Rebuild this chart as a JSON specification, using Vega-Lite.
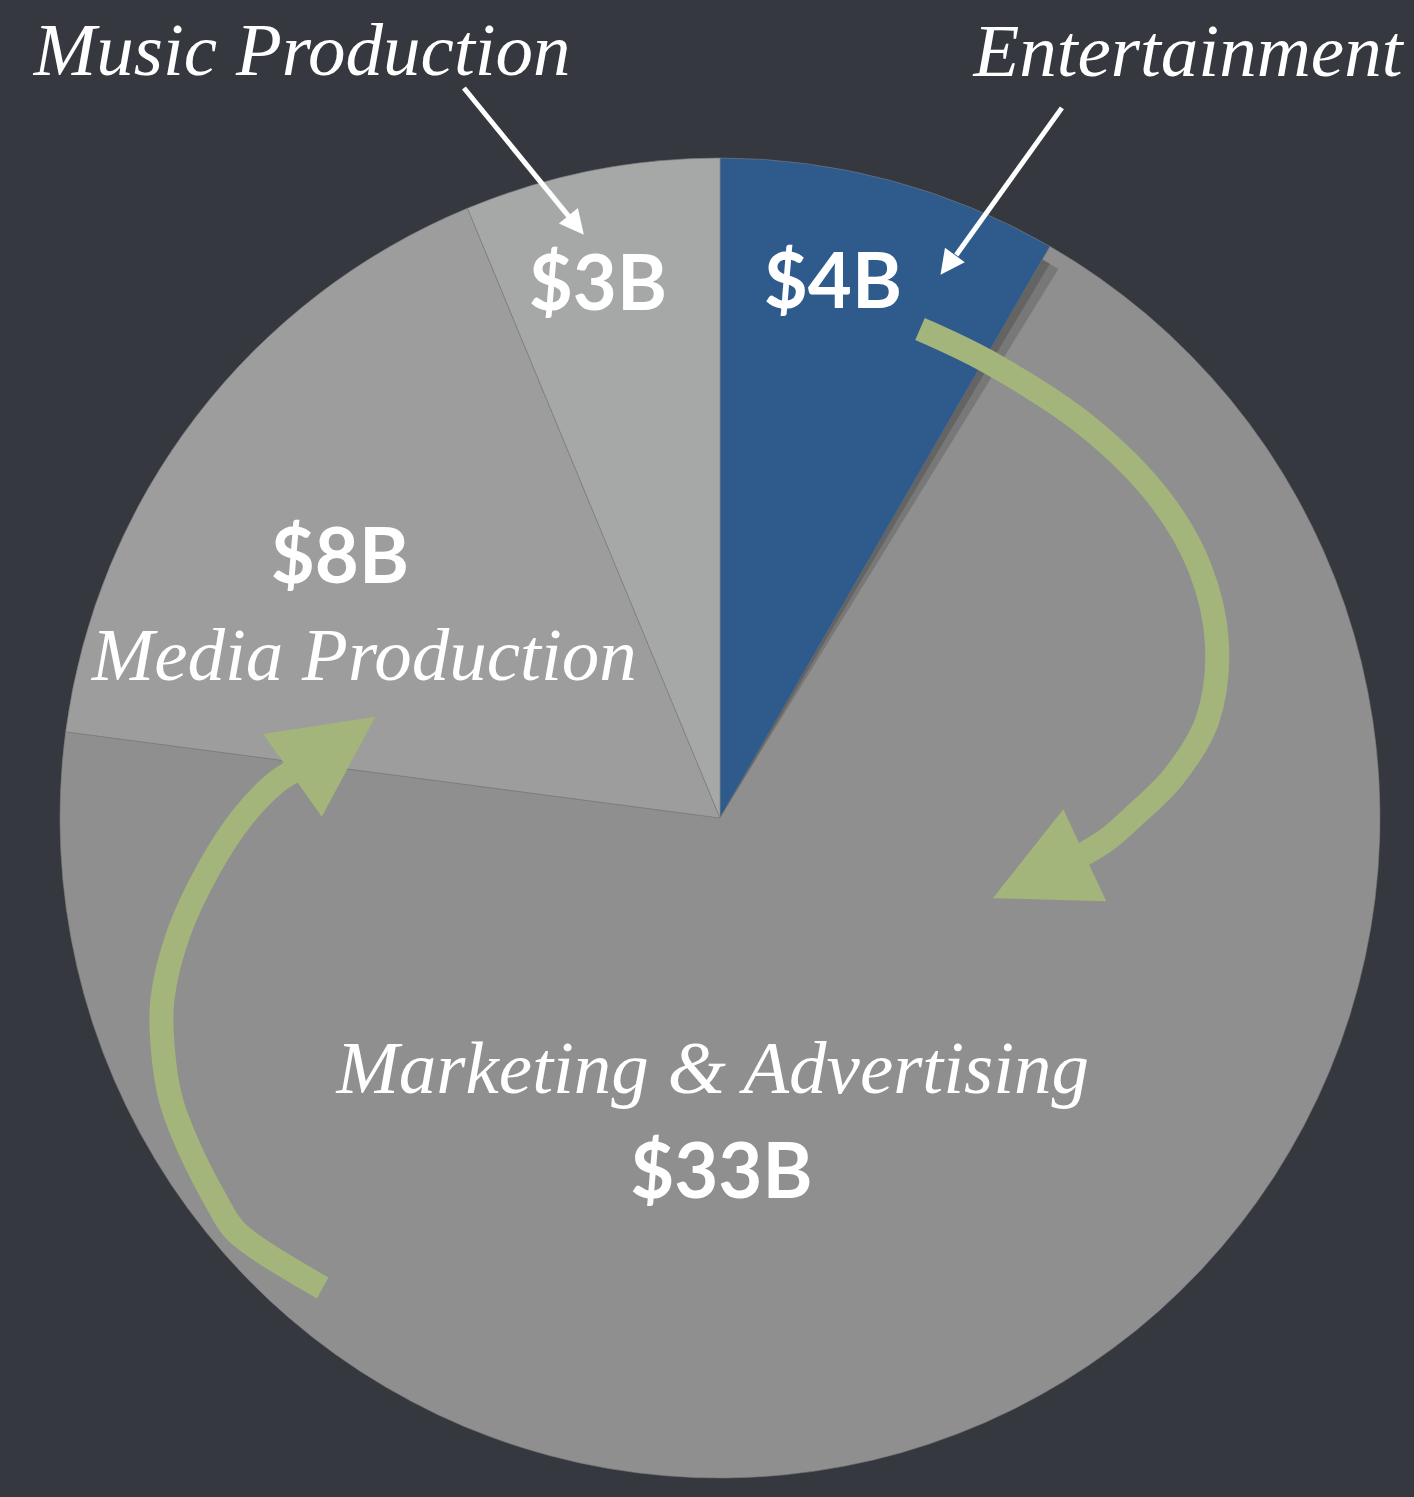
{
  "$schema": "https://vega.github.io/schema/vega-lite/v6.json",
  "width": 1320,
  "height": 1320,
  "autosize": "none",
  "padding": {"left": 60, "top": 158, "right": 34, "bottom": 19},
  "background": "#35383e",
  "config": {"view": {"stroke": null}},
  "datasets": {
    "slices": [
      {"category": "Entertainment", "value": 4, "rank": 1, "amount": "$4B", "ax": 0.171, "ay": 0.773, "nx": 0.709, "ny": 1.124},
      {"category": "Marketing & Advertising", "value": 33, "rank": 2, "amount": "$33B", "ax": 0.002, "ay": -0.576, "nx": -0.011, "ny": -0.417},
      {"category": "Media Production", "value": 8, "rank": 3, "amount": "$8B", "ax": -0.576, "ay": 0.356, "nx": -0.539, "ny": 0.209},
      {"category": "Music Production", "value": 3, "rank": 4, "amount": "$3B", "ax": -0.185, "ay": 0.770, "nx": -0.633, "ny": 1.126}
    ],
    "shadow": [
      {"s": 4, "e": 4.1},
      {"s": 4, "e": 4.22}
    ],
    "arrows": [
      {"arrow": "right", "seq": 1, "x": 0.303, "y": 0.741},
      {"arrow": "right", "seq": 2, "x": 0.405, "y": 0.692},
      {"arrow": "right", "seq": 3, "x": 0.556, "y": 0.594},
      {"arrow": "right", "seq": 4, "x": 0.667, "y": 0.483},
      {"arrow": "right", "seq": 5, "x": 0.727, "y": 0.379},
      {"arrow": "right", "seq": 6, "x": 0.753, "y": 0.264},
      {"arrow": "right", "seq": 7, "x": 0.738, "y": 0.147},
      {"arrow": "right", "seq": 8, "x": 0.686, "y": 0.061},
      {"arrow": "right", "seq": 9, "x": 0.626, "y": 0.002},
      {"arrow": "right", "seq": 10, "x": 0.586, "y": -0.033},
      {"arrow": "right", "seq": 11, "x": 0.545, "y": -0.058},
      {"arrow": "left", "seq": 1, "x": -0.602, "y": -0.712},
      {"arrow": "left", "seq": 2, "x": -0.733, "y": -0.627},
      {"arrow": "left", "seq": 3, "x": -0.764, "y": -0.579},
      {"arrow": "left", "seq": 4, "x": -0.803, "y": -0.503},
      {"arrow": "left", "seq": 5, "x": -0.832, "y": -0.427},
      {"arrow": "left", "seq": 6, "x": -0.844, "y": -0.352},
      {"arrow": "left", "seq": 7, "x": -0.845, "y": -0.276},
      {"arrow": "left", "seq": 8, "x": -0.820, "y": -0.174},
      {"arrow": "left", "seq": 9, "x": -0.773, "y": -0.074},
      {"arrow": "left", "seq": 10, "x": -0.723, "y": 0.002},
      {"arrow": "left", "seq": 11, "x": -0.674, "y": 0.053},
      {"arrow": "left", "seq": 12, "x": -0.648, "y": 0.070},
      {"arrow": "music", "seq": 1, "x": -0.388, "y": 1.106},
      {"arrow": "music", "seq": 2, "x": -0.227, "y": 0.909},
      {"arrow": "ent", "seq": 1, "x": 0.518, "y": 1.076},
      {"arrow": "ent", "seq": 2, "x": 0.358, "y": 0.853}
    ],
    "heads": [
      {"arrow": "right", "x": 0.483, "y": -0.089},
      {"arrow": "left", "x": -0.585, "y": 0.109},
      {"arrow": "music", "x": -0.218, "y": 0.898},
      {"arrow": "ent", "x": 0.345, "y": 0.838}
    ]
  },
  "layer": [
    {
      "data": {"name": "slices"},
      "mark": {"type": "arc", "stroke": "#7c7c7c", "strokeWidth": 0.6},
      "encoding": {
        "theta": {"field": "value", "type": "quantitative", "stack": true},
        "order": {"field": "rank", "type": "quantitative"},
        "color": {
          "field": "category",
          "type": "nominal",
          "scale": {
            "domain": ["Entertainment", "Marketing & Advertising", "Media Production", "Music Production"],
            "range": ["#2e5a8c", "#8f8f8f", "#9d9d9d", "#a5a8a7"]
          },
          "legend": null
        }
      }
    },
    {
      "data": {"name": "shadow"},
      "mark": {"type": "arc", "color": "#000000", "opacity": 0.16, "outerRadius": 645},
      "encoding": {
        "theta": {"field": "s", "type": "quantitative", "stack": null},
        "theta2": {"field": "e"}
      }
    },
    {
      "data": {"name": "arrows"},
      "transform": [{"filter": "datum.arrow === 'right' || datum.arrow === 'left'"}],
      "mark": {"type": "line", "color": "#a3b57a", "strokeWidth": 24, "strokeCap": "butt", "strokeJoin": "round", "interpolate": "catmull-rom"},
      "encoding": {
        "x": {"field": "x", "type": "quantitative", "scale": {"domain": [-1, 1], "nice": false, "zero": false}, "axis": null},
        "y": {"field": "y", "type": "quantitative", "scale": {"domain": [-1, 1], "nice": false, "zero": false}, "axis": null},
        "detail": {"field": "arrow"},
        "order": {"field": "seq", "type": "quantitative"}
      }
    },
    {
      "data": {"name": "arrows"},
      "transform": [{"filter": "datum.arrow === 'music' || datum.arrow === 'ent'"}],
      "mark": {"type": "line", "color": "#ffffff", "strokeWidth": 5, "strokeCap": "butt"},
      "encoding": {
        "x": {"field": "x", "type": "quantitative", "scale": {"domain": [-1, 1], "nice": false, "zero": false}, "axis": null},
        "y": {"field": "y", "type": "quantitative", "scale": {"domain": [-1, 1], "nice": false, "zero": false}, "axis": null},
        "detail": {"field": "arrow"},
        "order": {"field": "seq", "type": "quantitative"}
      }
    },
    {
      "data": {"name": "heads"},
      "transform": [{"filter": "datum.arrow === 'right'"}],
      "mark": {"type": "point", "shape": "M0,-1L1,1L-1,1Z", "filled": true, "color": "#a3b57a", "opacity": 1, "size": 10300, "angle": 245},
      "encoding": {
        "x": {"field": "x", "type": "quantitative", "scale": {"domain": [-1, 1], "nice": false, "zero": false}, "axis": null},
        "y": {"field": "y", "type": "quantitative", "scale": {"domain": [-1, 1], "nice": false, "zero": false}, "axis": null}
      }
    },
    {
      "data": {"name": "heads"},
      "transform": [{"filter": "datum.arrow === 'left'"}],
      "mark": {"type": "point", "shape": "M0,-1L1,1L-1,1Z", "filled": true, "color": "#a3b57a", "opacity": 1, "size": 10300, "angle": 54.7},
      "encoding": {
        "x": {"field": "x", "type": "quantitative", "scale": {"domain": [-1, 1], "nice": false, "zero": false}, "axis": null},
        "y": {"field": "y", "type": "quantitative", "scale": {"domain": [-1, 1], "nice": false, "zero": false}, "axis": null}
      }
    },
    {
      "data": {"name": "heads"},
      "transform": [{"filter": "datum.arrow === 'music'"}],
      "mark": {"type": "point", "shape": "M0,-1L1,1L-1,1Z", "filled": true, "color": "#ffffff", "opacity": 1, "size": 600, "angle": 140.8},
      "encoding": {
        "x": {"field": "x", "type": "quantitative", "scale": {"domain": [-1, 1], "nice": false, "zero": false}, "axis": null},
        "y": {"field": "y", "type": "quantitative", "scale": {"domain": [-1, 1], "nice": false, "zero": false}, "axis": null}
      }
    },
    {
      "data": {"name": "heads"},
      "transform": [{"filter": "datum.arrow === 'ent'"}],
      "mark": {"type": "point", "shape": "M0,-1L1,1L-1,1Z", "filled": true, "color": "#ffffff", "opacity": 1, "size": 600, "angle": 215.9},
      "encoding": {
        "x": {"field": "x", "type": "quantitative", "scale": {"domain": [-1, 1], "nice": false, "zero": false}, "axis": null},
        "y": {"field": "y", "type": "quantitative", "scale": {"domain": [-1, 1], "nice": false, "zero": false}, "axis": null}
      }
    },
    {
      "data": {"name": "slices"},
      "mark": {"type": "text", "font": "Lato", "fontWeight": "bold", "fontSize": 76, "color": "#ffffff", "align": "center", "baseline": "alphabetic"},
      "encoding": {
        "x": {"field": "ax", "type": "quantitative", "scale": {"domain": [-1, 1], "nice": false, "zero": false}, "axis": null},
        "y": {"field": "ay", "type": "quantitative", "scale": {"domain": [-1, 1], "nice": false, "zero": false}, "axis": null},
        "text": {"field": "amount"}
      }
    },
    {
      "data": {"name": "slices"},
      "mark": {"type": "text", "font": "Liberation Serif", "fontStyle": "italic", "fontSize": 75, "color": "#ffffff", "align": "center", "baseline": "alphabetic"},
      "encoding": {
        "x": {"field": "nx", "type": "quantitative", "scale": {"domain": [-1, 1], "nice": false, "zero": false}, "axis": null},
        "y": {"field": "ny", "type": "quantitative", "scale": {"domain": [-1, 1], "nice": false, "zero": false}, "axis": null},
        "text": {"field": "category"}
      }
    }
  ]
}
